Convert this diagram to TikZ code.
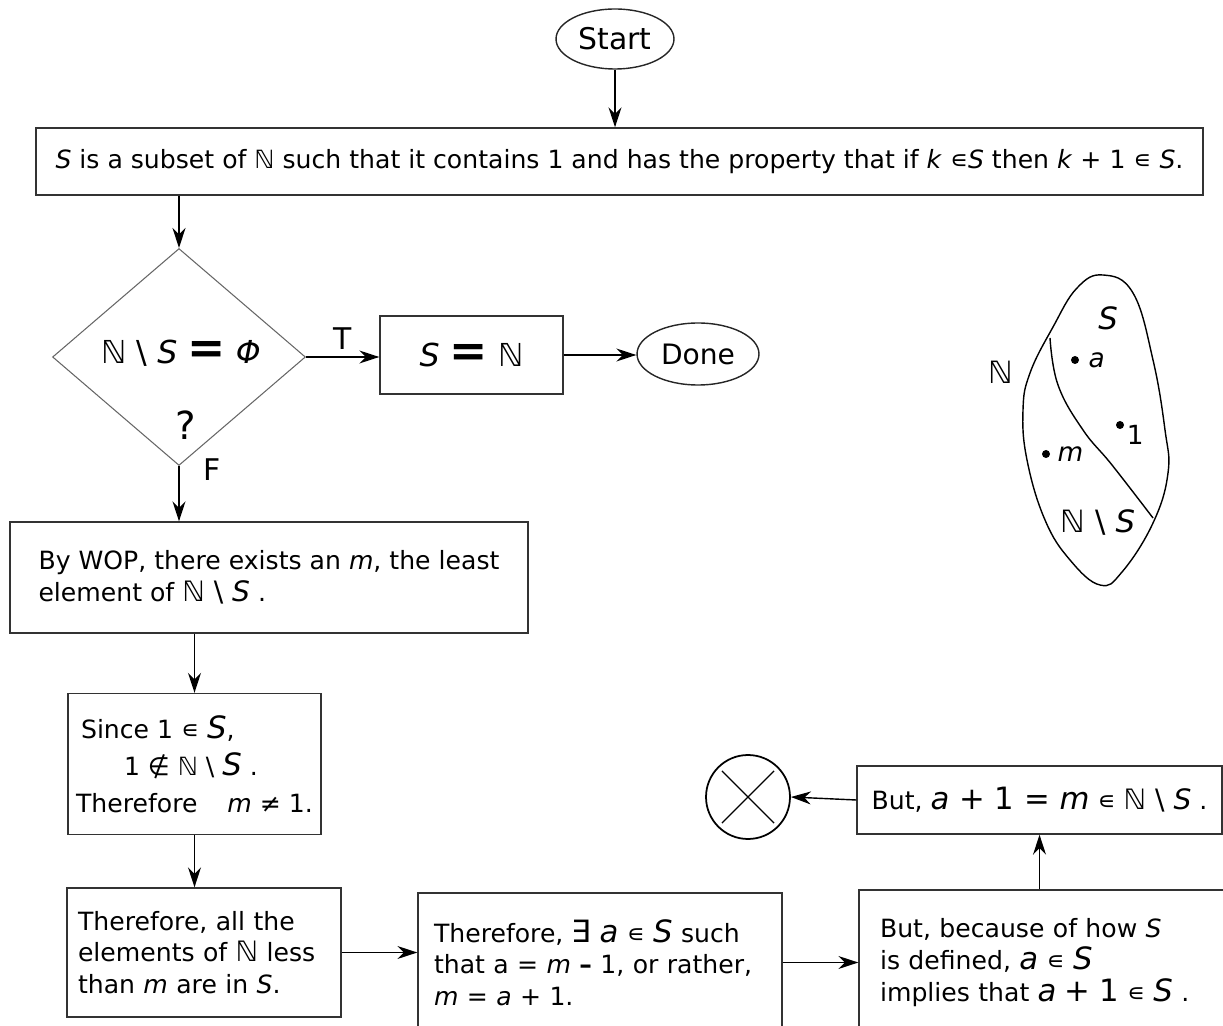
\documentclass[tikz,border=0pt]{standalone}
\usepackage{fontspec}
\setmainfont{DejaVu Sans}
\usetikzlibrary{
    arrows.meta,
    positioning,
    shapes.geometric,
    calc
}
\tikzset{
  box/.style      = {draw=black!80, line width=0.8pt, align=left, inner ysep=0pt,
                     font=\fontsize{14.3}{18}\selectfont},
  term/.style     = {draw=black!85, ellipse, line width=0.8pt, inner sep=0pt,
                     font=\fontsize{17}{20}\selectfont},
  decision/.style = {draw=black!60, diamond, line width=0.6pt, inner sep=0pt},
  arr/.style      = {-{Stealth[length=4mm, width=2.6mm]}, line width=0.8pt},
  lbl/.style      = {inner sep=1pt, font=\fontsize{17}{20}\selectfont}
}
\newcommand{\NN}{ℕ}
\newcommand{\bs}{\textbackslash}
\newcommand{\bigtxt}[1]{{\fontsize{17.5}{18}\selectfont #1}}
\newcommand{\midtxt}[1]{{\fontsize{16}{18}\selectfont #1}}

\begin{document}
\begin{tikzpicture}[x=0.02cm, y=-0.02cm,
    dot/.style={circle, fill=black, inner sep=0pt, minimum size=1.6mm},
    setlbl/.style={inner sep=1pt, font=\fontsize{17.5}{20}\selectfont},
    ptlbl/.style={inner sep=1pt, font=\fontsize{15}{18}\selectfont}
]
\useasboundingbox (0,0) rectangle (1223,1026);

% flow chart
\node[term, minimum width=2.36cm, minimum height=1.2cm] (start) at (615,39) {Start};
\node[box, minimum width=23.34cm, minimum height=1.34cm] (def) at (619.5,161.5)
  {\textit{S} is a subset of \NN{} such that it contains 1 and has the property that if \textit{k} ∊\textit{S} then \textit{k} + 1 ∊ \textit{S}.};
\node[decision, minimum width=5.06cm, minimum height=4.34cm] (q) at (179,357) {};
\node[lbl, font=\fontsize{18}{20}\selectfont] (qtxt) at (181,353)
  {\NN{} \bs{} \textit{S} {\fontsize{26}{20}\selectfont\bfseries =} \textit{Φ}};
\node[lbl, font=\fontsize{22}{24}\selectfont] (qmark) at (186,425) {?};
\node[box, align=center, minimum width=3.66cm, minimum height=1.56cm,
      font=\fontsize{18}{20}\selectfont] (sn) at (471.5,355)
  {\textit{S} {\fontsize{26}{20}\selectfont\bfseries =} \NN};
\node[term, minimum width=2.44cm, minimum height=1.24cm,
      font=\fontsize{16}{20}\selectfont] (done) at (698,354) {Done};

\node[box, minimum width=10.36cm, minimum height=2.22cm] (wop) at (269,577.5)
  {By WOP, there exists an \textit{m}, the least\\element of \midtxt{\NN{} \bs{} \textit{S}} .};
\node[box, minimum width=5.06cm, minimum height=2.82cm,
      font=\fontsize{14.3}{21}\selectfont] (since) at (194.5,764)
  {\hspace{0.1cm}Since 1 ∊ \bigtxt{\textit{S}},\\
   \hspace{0.96cm}1 ∉ \NN{} \bs{} \bigtxt{\textit{S}} .\\
   Therefore\hspace{0.6cm}\textit{m} ≠ 1.};
\node[box, text width=5.04cm, inner xsep=0.22cm, minimum height=2.58cm] (ther) at (204,952.5)
  {Therefore, all the\\elements of \midtxt{\NN} less\\than \textit{m} are in \textit{S}.};
\node[box, text width=6.64cm, inner xsep=0.32cm, minimum height=2.78cm] (ex) at (600,962.5)
  {Therefore, \bigtxt{∃ \textit{a}} ∊ \bigtxt{\textit{S}} such\\
   that a = \textit{m} {\bfseries –} 1, or rather,\\
   \textit{m} = \textit{a} + 1.};
\node[box, text width=6.78cm, inner xsep=0.42cm, minimum height=2.9cm] (impl) at (1049.5,962.5)
  {But, because of how \textit{S}\\
   is defined, \bigtxt{\textit{a}} ∊ \bigtxt{\textit{S}}\\
   implies that \bigtxt{\textit{a} + 1} ∊ \bigtxt{\textit{S}} .};
\node[box, minimum width=7.3cm, minimum height=1.36cm] (but) at (1039.5,800)
  {But, \bigtxt{\textit{a} + 1 = \textit{m}} ∊ \midtxt{\NN{} \bs{} \textit{S}} .};
\node[draw, circle, line width=1pt, minimum size=1.68cm, inner sep=0pt] (no) at (748,797) {};
\draw[line width=0.7pt] ($(no.center)!0.86!(no.45)$) -- ($(no.center)!0.86!(no.225)$);
\draw[line width=0.7pt] ($(no.center)!0.86!(no.135)$) -- ($(no.center)!0.86!(no.315)$);

\draw[arr] (start.south) -- (start.south |- def.north);
\draw[arr] (def.south -| q.north) -- (q.north);
\draw[arr] (q.east) -- node[lbl, above=3pt] (tlbl) {T} (q.east -| sn.west);
\draw[arr] (sn.east) -- (sn.east -| done.west);
\draw[arr] (q.south) -- node[lbl, pos=0.06, right=0.45cm] (flbl) {F} (q.south |- wop.north);
\draw[arr] (since.north |- wop.south) -- (since.north);
\draw[arr] (since.south) -- (since.south |- ther.north);
\draw[arr] (ther.east) -- (ther.east -| ex.west);
\draw[arr] (ex.east) -- (ex.east -| impl.west);
\draw[arr] (but.south |- impl.north) -- (but.south);
\draw[arr] (but.west) -- (no.east);

% the set picture
\draw[line width=0.8pt] plot[smooth cycle, tension=0.7] coordinates {
  (1103,275) (1133,293) (1153,360) (1165,430) (1168,473) (1153,523)
  (1122,572) (1100,585) (1070,560) (1045,520) (1027,460) (1023,410)
  (1030,373) (1053,327) (1077,288)};
\draw[line width=0.8pt] plot[smooth, tension=0.7] coordinates {
  (1050,338) (1058,385) (1083,430) (1112,465) (1153,518)};
\node[setlbl] (sS) at (1108,318) {\textit{S}};
\node[setlbl] (sN) at (1001,372) {\NN};
\node[setlbl] (sNS) at (1098,523) {\NN{} \bs{} \textit{S}};
\node[dot] (da) at (1075,360) {};
\node[ptlbl, right=4pt of da] (sa) {\textit{a}};
\node[dot] (d1) at (1120,425) {};
\node[ptlbl, below right=-3pt and 1pt of d1] (s1) {1};
\node[dot] (dm) at (1046,454) {};
\node[ptlbl, right=3pt of dm] (sm) {\textit{m}};
\end{tikzpicture}
\end{document}
